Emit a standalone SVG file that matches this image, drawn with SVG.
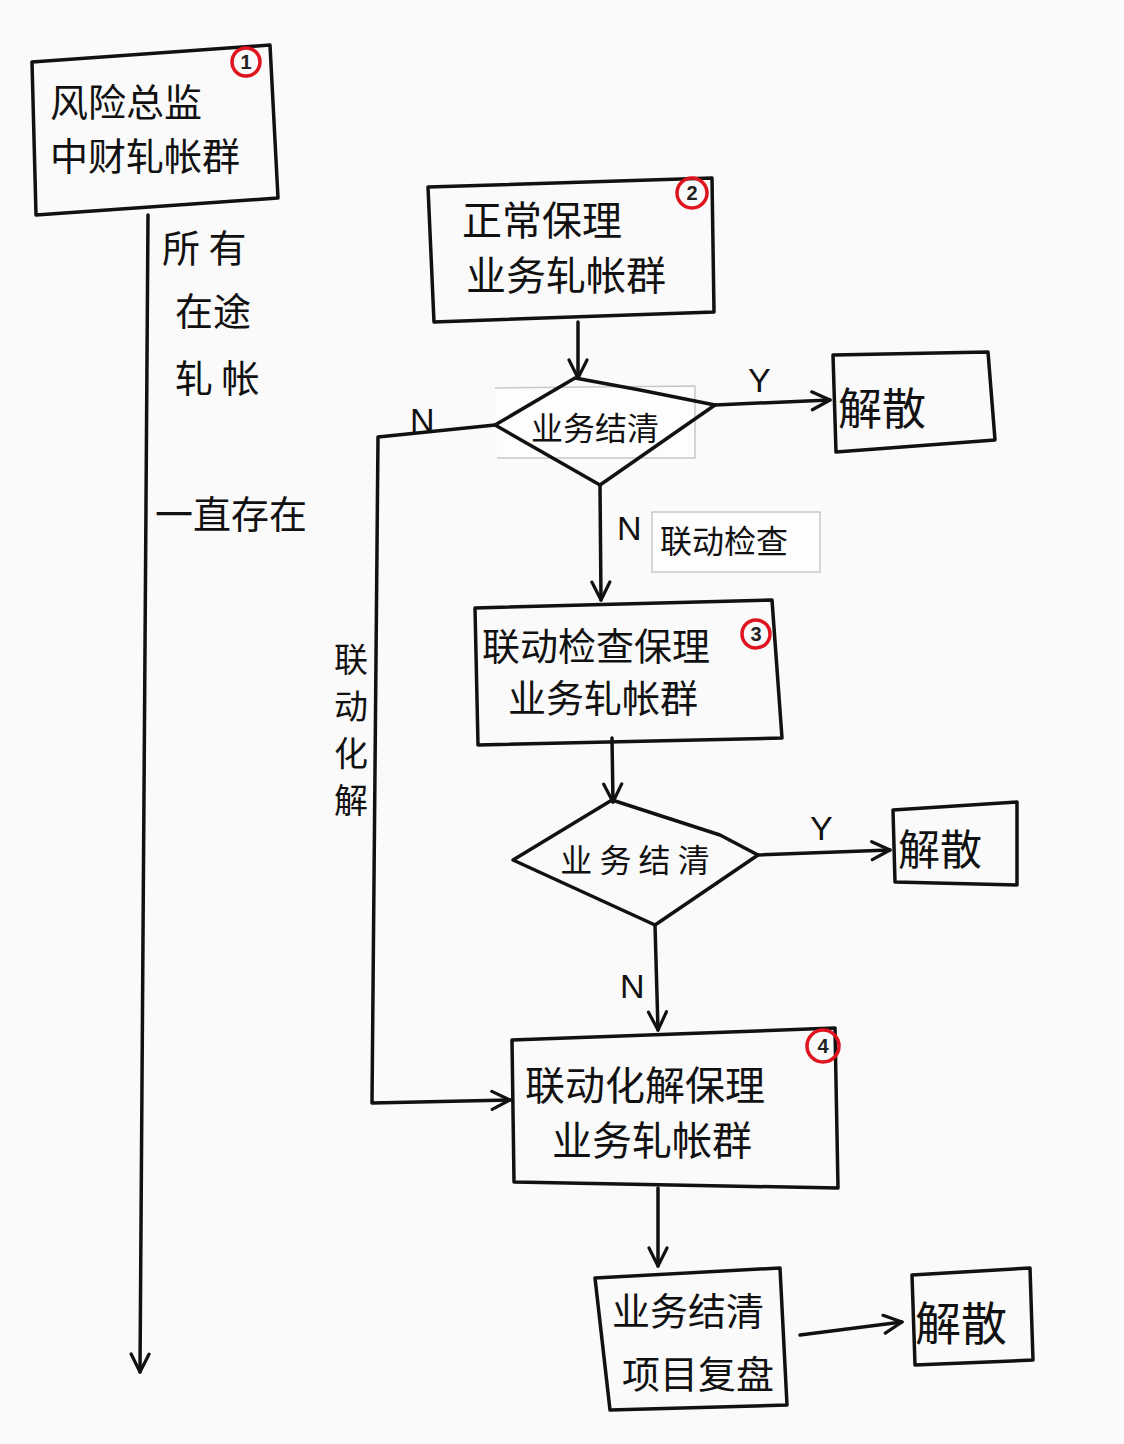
<svg xmlns="http://www.w3.org/2000/svg" width="1124" height="1444" viewBox="0 0 1124 1444">
<defs>
<style>
.ln{fill:none;stroke:#111;stroke-width:3.5;stroke-linecap:round;stroke-linejoin:round}
.box{fill:none;stroke:#111;stroke-width:3.5;stroke-linejoin:round}
.slip{fill:#fdfdfd;stroke:#c8c8c8;stroke-width:1.5}
.t{font-family:"Noto Sans CJK SC","Noto Sans",sans-serif;fill:#111;font-weight:400}
.lbl{font-family:"Liberation Sans",sans-serif;fill:#111;font-size:34px}
.num{fill:none;stroke:#e0141e;stroke-width:3.5}
.nt{font-family:"Liberation Sans",sans-serif;font-size:20px;font-weight:bold;fill:#222;text-anchor:middle}
</style>
<marker id="ah" markerWidth="22" markerHeight="22" refX="20" refY="11" orient="auto" markerUnits="userSpaceOnUse">
<path d="M2,2 L20,11 L2,20" fill="none" stroke="#111" stroke-width="3.2" stroke-linecap="round" stroke-linejoin="round"/>
</marker>
</defs>
<rect width="1124" height="1444" fill="#fafafa"/>

<g id="connectors">
<path class="ln" d="M148,215 L140,1372" marker-end="url(#ah)"/>
<path class="ln" d="M578,322 L578,378" marker-end="url(#ah)"/>
<path class="ln" d="M715,405 L830,400" marker-end="url(#ah)"/>
<path class="ln" d="M495,425 L378,437 L372,1103 L510,1100" marker-end="url(#ah)"/>
<path class="ln" d="M600,485 L601,600" marker-end="url(#ah)"/>
<path class="ln" d="M612,738 L613,802" marker-end="url(#ah)"/>
<path class="ln" d="M758,855 L890,850" marker-end="url(#ah)"/>
<path class="ln" d="M655,925 L658,1030" marker-end="url(#ah)"/>
<path class="ln" d="M658,1188 L658,1266" marker-end="url(#ah)"/>
<path class="ln" d="M800,1335 L902,1322" marker-end="url(#ah)"/>
<text class="lbl" x="748" y="392">Y</text>
<text class="lbl" x="410" y="432">N</text>
<text class="lbl" x="617" y="540">N</text>
<text class="lbl" x="810" y="840">Y</text>
<text class="lbl" x="620" y="998">N</text>
<rect class="slip" x="652" y="512" width="168" height="60"/>
<text class="t" x="660" y="553" font-size="32">联动检查</text>
<text class="t" x="334" y="672" font-size="34">联</text>
<text class="t" x="334" y="719" font-size="34">动</text>
<text class="t" x="334" y="766" font-size="34">化</text>
<text class="t" x="334" y="813" font-size="34">解</text>
</g>

<g id="node1">
<path class="box" d="M32,62 L270,45 L278,198 L36,215 Z"/>
<text class="t" x="50" y="116" font-size="38">风险总监</text>
<text class="t" x="50" y="170" font-size="38">中财轧帐群</text>
<circle class="num" cx="246" cy="62" r="14"/>
<text class="nt" x="246" y="69">1</text>
</g>

<g id="note1">
<text class="t" x="162" y="262" font-size="38">所 有</text>
<text class="t" x="175" y="325" font-size="38">在途</text>
<text class="t" x="175" y="392" font-size="38">轧 帐</text>
<text class="t" x="155" y="528" font-size="38">一直存在</text>
</g>

<g id="node2">
<path class="box" d="M428,187 L712,178 L714,312 L434,322 Z"/>
<text class="t" x="462" y="235" font-size="40">正常保理</text>
<text class="t" x="466" y="290" font-size="40">业务轧帐群</text>
<circle class="num" cx="692" cy="193" r="15"/>
<text class="nt" x="692" y="200">2</text>
</g>

<g id="decision1">
<path class="slip" d="M495,388 L695,386 L695,458 L497,458"/>
<path class="box" d="M495,425 L575,378 L640,390 L715,405 L600,485 Z"/>
<text class="t" x="595" y="440" font-size="32" text-anchor="middle">业务结清</text>
</g>

<g id="end1">
<path class="box" d="M833,355 L988,352 L995,440 L836,452 Z"/>
<text class="t" x="838" y="425" font-size="44">解散</text>
</g>

<g id="node3">
<path class="box" d="M475,608 L772,600 L782,738 L478,745 Z"/>
<text class="t" x="482" y="660" font-size="38">联动检查保理</text>
<text class="t" x="508" y="712" font-size="38">业务轧帐群</text>
<circle class="num" cx="756" cy="634" r="14"/>
<text class="nt" x="756" y="641">3</text>
</g>

<g id="decision2">
<path class="box" d="M513,860 L612,800 L720,835 L758,855 L655,925 Z"/>
<text class="t" x="635" y="872" font-size="32" text-anchor="middle">业 务 结 清</text>
</g>

<g id="end2">
<path class="box" d="M893,810 L1017,802 L1017,885 L895,882 Z"/>
<text class="t" x="898" y="865" font-size="42">解散</text>
</g>

<g id="node4">
<path class="box" d="M512,1040 L835,1028 L838,1188 L514,1182 Z"/>
<text class="t" x="525" y="1100" font-size="40">联动化解保理</text>
<text class="t" x="552" y="1155" font-size="40">业务轧帐群</text>
<circle class="num" cx="823" cy="1046" r="16"/>
<text class="nt" x="823" y="1053">4</text>
</g>

<g id="node5">
<path class="box" d="M595,1278 L780,1268 L787,1405 L610,1410 Z"/>
<text class="t" x="612" y="1325" font-size="38">业务结清</text>
<text class="t" x="622" y="1388" font-size="38">项目复盘</text>
</g>

<g id="end3">
<path class="box" d="M912,1275 L1030,1268 L1033,1360 L915,1365 Z"/>
<text class="t" x="915" y="1340" font-size="46">解散</text>
</g>
</svg>
